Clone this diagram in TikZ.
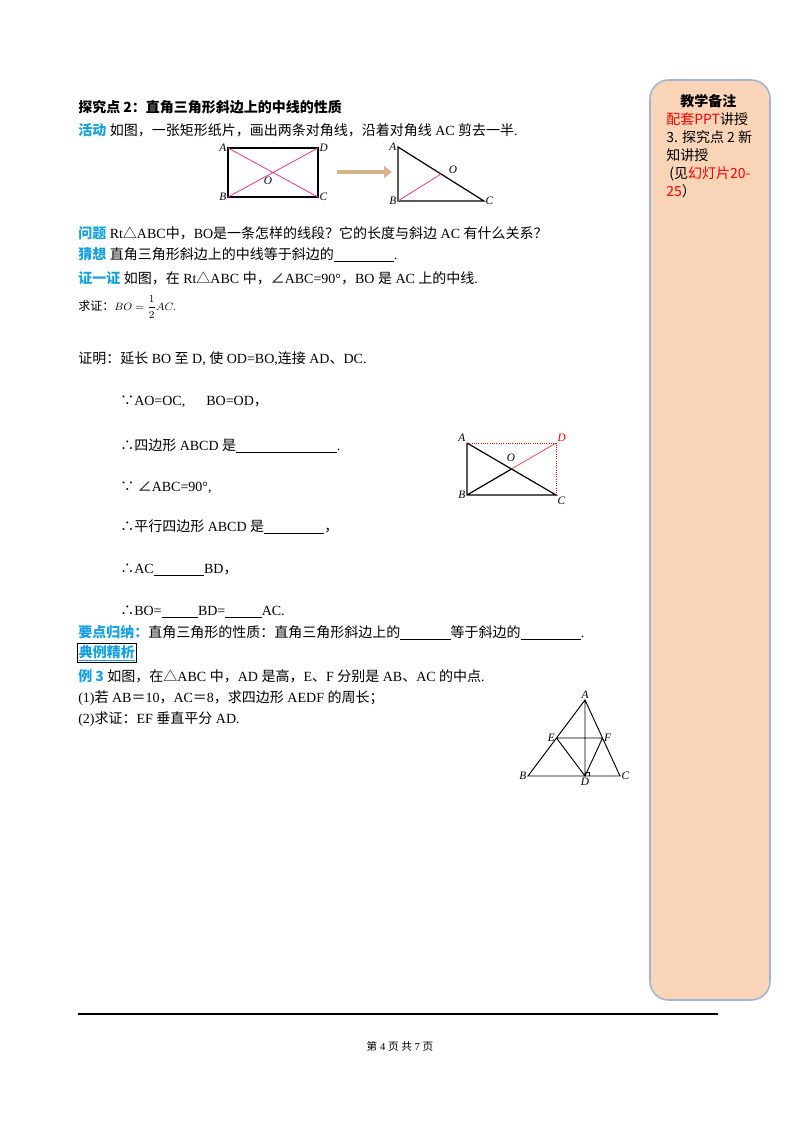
\documentclass[tikz,border=0pt]{standalone}
\usepackage{fontspec}
\usetikzlibrary{arrows.meta}
\setmainfont{Liberation Serif}
\newfontfamily\cjk{Noto Sans CJK SC}
\newcommand{\mytri}{{\cjk △}}
\newcommand{\mybec}{{\cjk ∵}}
\newcommand{\mythus}{{\cjk ∴}}
\newcommand{\myang}{{\cjk ∠}}
\definecolor{lblue}{RGB}{20,160,225}
\definecolor{pink}{RGB}{225,60,130}
\definecolor{peach}{RGB}{250,212,182}
\definecolor{boxedge}{RGB}{160,180,215}
\definecolor{tan}{RGB}{215,180,140}
\begin{document}
\begin{tikzpicture}[x=0.75pt,y=-0.75pt,
  txt/.style={anchor=west,inner sep=0pt,font=\fontsize{10.5}{12}\selectfont},
  pt/.style={inner sep=1pt,font=\fontsize{8.5}{10}\selectfont\itshape},
  geo/.style={line width=0.9pt}]
\useasboundingbox (0,0) rectangle (800,1132);
\fill[white] (0,0) rectangle (800,1132);
% side box
\draw[boxedge,line width=1.2pt,fill=peach,rounded corners=14pt] (650,80) rectangle (770,1000);
\node[anchor=north west,inner sep=0pt,align=left,font=\fontsize{10.5}{13.5}\selectfont\cjk] (notes) at (666,94)
 {\hspace*{1em}\textbf{教学备注}\\ \textcolor{red}{配套PPT}讲授\\ 3. 探究点 2 新\\ 知讲授\\ \ (见\textcolor{red}{幻灯片20-}\\ \textcolor{red}{25}）};
% text
\node[txt] (t1) at (78,107) {\cjk\bfseries 探究点 2：直角三角形斜边上的中线的性质};
\node[txt] (t2) at (78,130) {{\cjk\bfseries\color{lblue}活动} {\cjk 如图，一张矩形纸片，画出两条对角线，沿着对角线} AC {\cjk 剪去一半}.};
\node[txt] (t3) at (78,233) {{\cjk\bfseries\color{lblue}问题} Rt\mytri ABC{\cjk 中，}BO{\cjk 是一条怎样的线段？它的长度与斜边} AC {\cjk 有什么关系？}};
\node[txt] (t4) at (78,255) {{\cjk\bfseries\color{lblue}猜想} {\cjk 直角三角形斜边上的中线等于斜边的}\underline{\hspace{4.3em}}.};
\node[txt] (t5) at (78,278) {{\cjk\bfseries\color{lblue}证一证} {\cjk 如图，在} Rt\mytri ABC {\cjk 中，}\myang ABC=90°{\cjk ，}BO {\cjk 是} AC {\cjk 上的中线}.};
\node[txt] (t6) at (78,307) {{\cjk\fontsize{9}{10}\selectfont 求证：}{\fontsize{8}{10}\selectfont$\displaystyle BO=\frac{1}{2}AC.$}};
\node[txt] (t7) at (78,359) {{\cjk 证明：延长} BO {\cjk 至} D, {\cjk 使} OD=BO,{\cjk 连接} AD{\cjk 、}DC.};
\node[txt] (t8) at (120,402) {\mybec AO=OC,\quad\ \ BO=OD{\cjk ，}};
\node[txt] (t9) at (120,446) {\mythus{\cjk 四边形} ABCD {\cjk 是}\underline{\hspace{7.2em}}.};
\node[txt] (t10) at (120,488) {\mybec\ \myang ABC=90°,};
\node[txt] (t11) at (120,527) {\mythus{\cjk 平行四边形} ABCD {\cjk 是}\underline{\hspace{4.3em}}{\cjk ，}};
\node[txt] (t12) at (120,570) {\mythus AC\underline{\hspace{3.6em}}BD{\cjk ，}};
\node[txt] (t13) at (120,612) {\mythus BO=\underline{\hspace{2.6em}}BD=\underline{\hspace{2.6em}}AC.};
\node[txt] (t14) at (78,633) {{\cjk\bfseries\color{lblue}要点归纳：}{\cjk 直角三角形的性质：直角三角形斜边上的}\underline{\hspace{3.6em}}{\cjk 等于斜边的}\underline{\hspace{4.3em}}.};
\node[txt,draw=black,line width=0.8pt,inner sep=1pt] (t15) at (77,653) {\cjk\bfseries\color{lblue}\underline{典例精析}};
\node[txt] (t16) at (78,676) {{\cjk\bfseries\color{lblue}例 3} {\cjk 如图，在}\mytri ABC {\cjk 中，}AD {\cjk 是高，}E{\cjk 、}F {\cjk 分别是} AB{\cjk 、}AC {\cjk 的中点}.};
\node[txt] (t17) at (78,698) {(1){\cjk 若} AB{\cjk ＝}10{\cjk ，}AC{\cjk ＝}8{\cjk ，求四边形} AEDF {\cjk 的周长；}};
\node[txt] (t18) at (78,719) {(2){\cjk 求证：}EF {\cjk 垂直平分} AD.};
% figure 1
\coordinate (A1) at (228,148); \coordinate (D1) at (318,148);
\coordinate (B1) at (228,197); \coordinate (C1) at (318,197);
\draw[geo] (A1) rectangle (C1);
\draw[pink,line width=0.6pt] (A1)--(C1) (B1)--(D1);
\node[pt,anchor=east] at (A1) {A}; \node[pt,anchor=west] at (D1) {D};
\node[pt,anchor=east] at (B1) {B}; \node[pt,anchor=west] at (C1) {C};
\node[pt] at (268,181) {O};
\coordinate (ar1) at (337,172); \coordinate (ar2) at (392,172);
\draw[tan,line width=3pt,-{Triangle[length=6pt,width=9pt]}] (ar1)--(ar2);
\coordinate (A2) at (398,147); \coordinate (B2) at (398,201); \coordinate (C2) at (484,201);
\coordinate (O2) at (441,174);
\draw[geo] (A2)--(B2)--(C2)--cycle;
\draw[pink,line width=0.6pt] (B2)--(O2);
\node[pt,anchor=east] at (A2) {A}; \node[pt,anchor=east] at (B2) {B};
\node[pt,anchor=west] at (C2) {C}; \node[pt] at (453,170) {O};
% figure 2
\coordinate (A3) at (467,443); \coordinate (D3) at (556,443);
\coordinate (B3) at (467,495); \coordinate (C3) at (556,495); \coordinate (O3) at (511.5,469);
\draw[geo] (A3)--(B3)--(C3)--(A3) (B3)--(O3);
\draw[red,densely dotted,line width=0.7pt] (A3)--(D3)--(C3);
\draw[red!80,line width=0.5pt] (O3)--(D3);
\node[pt,anchor=south east] at (A3) {A}; \node[pt,anchor=south west,red] at (D3) {D};
\node[pt,anchor=east] at (B3) {B}; \node[pt,anchor=north west] at (C3) {C};
\node[pt,anchor=south] at (511,463) {O};
% figure 3
\coordinate (A4) at (585,700); \coordinate (B4) at (528,776); \coordinate (C4) at (620,776);
\coordinate (D4) at (585,776); \coordinate (E4) at (556.5,738); \coordinate (F4) at (602.5,738);
\draw[line width=0.7pt] (A4)--(B4)--(C4)--cycle (A4)--(D4) (E4)--(F4) (E4)--(D4)--(F4);
\draw[line width=0.5pt] (585,772)--(589,772)--(589,776);
\node[pt,anchor=south] at (A4) {A}; \node[pt,anchor=east] at (B4) {B};
\node[pt,anchor=west] at (C4) {C}; \node[pt,anchor=north] at (D4) {D};
\node[pt,anchor=east] at (E4) {E}; \node[pt,anchor=west] at (F4) {F};
% footer
\coordinate (L1) at (78,1014); \coordinate (L2) at (718,1014);
\draw[line width=1pt] (L1)--(L2);
\node[font=\fontsize{8}{10}\selectfont] (ft) at (400,1046) {{\cjk 第} 4 {\cjk 页} {\cjk 共} 7 {\cjk 页}};
\end{tikzpicture}
\end{document}
